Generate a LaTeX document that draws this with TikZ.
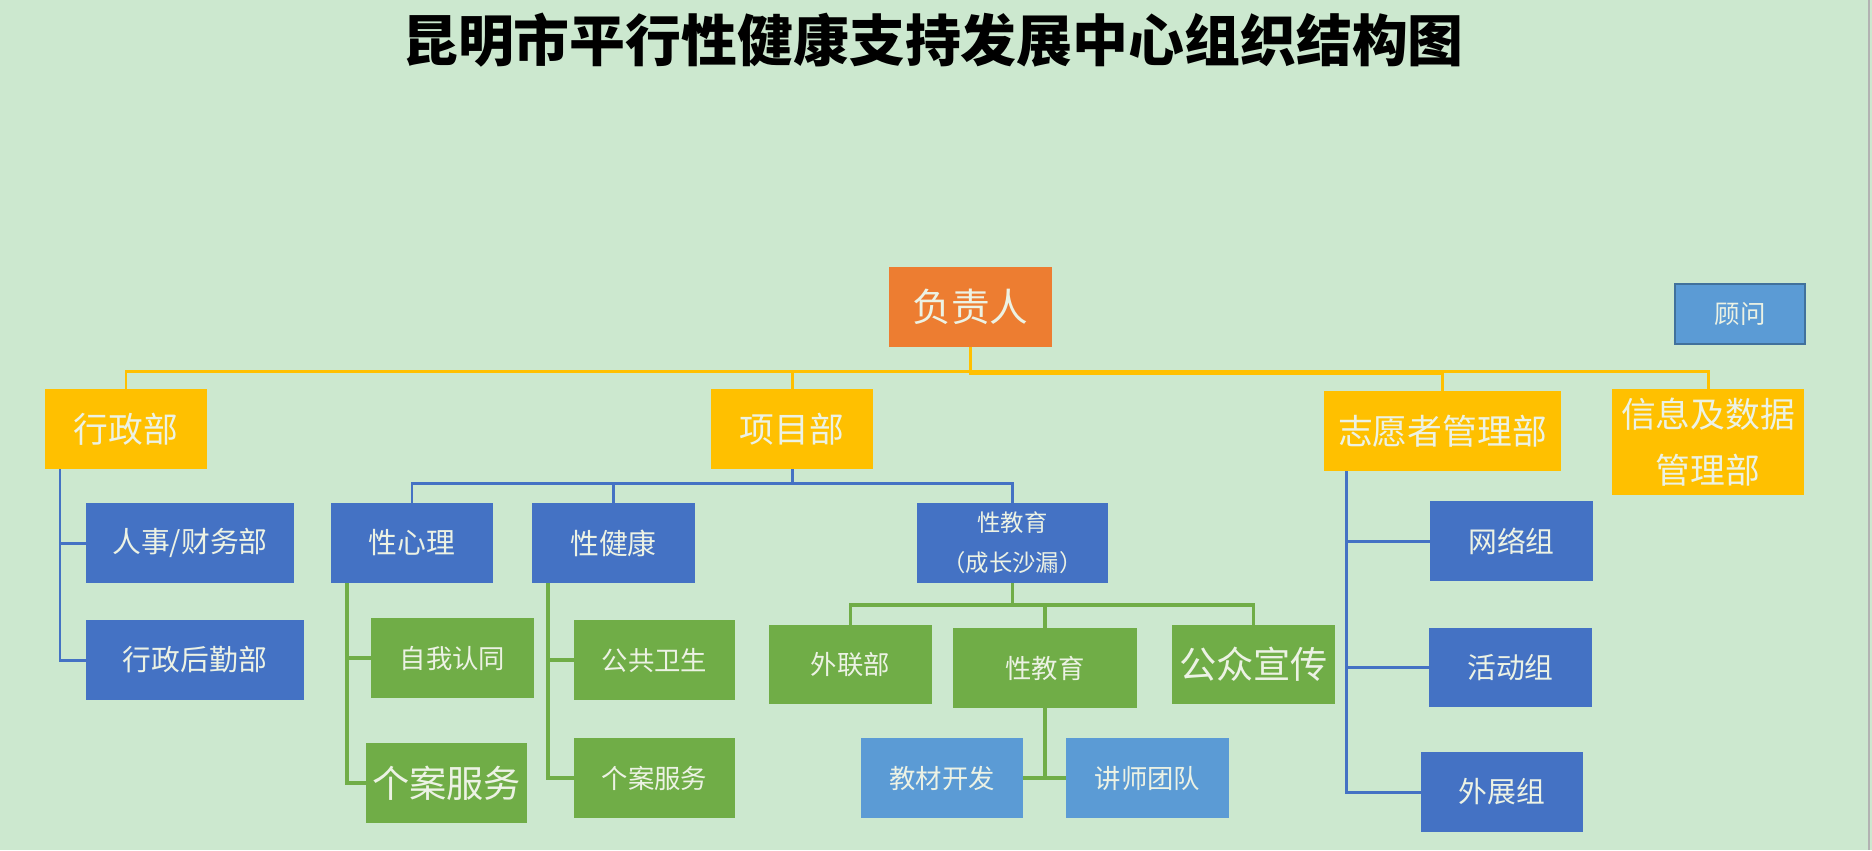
\documentclass[tikz,border=0pt]{standalone}
\usepackage{fontspec}
\newfontfamily\cjk{Noto Sans CJK SC}

\definecolor{bggreen}{RGB}{204,232,207}
\definecolor{headorange}{RGB}{237,125,49}
\definecolor{deptyellow}{RGB}{255,192,0}
\definecolor{teamblue}{RGB}{68,114,196}
\definecolor{skyblue}{RGB}{91,155,213}
\definecolor{skyrim}{RGB}{65,113,156}
\definecolor{subgreen}{RGB}{112,173,71}
\definecolor{paletext}{RGB}{236,242,228}

\begin{document}
\begin{tikzpicture}[x=0.02cm, y=-0.02cm,
  wh/.style 2 args={minimum width=#1*0.02cm, minimum height=#2*0.02cm},
  orgbox/.style={rectangle, inner sep=0pt, align=center, text=paletext},
  headbox/.style={orgbox, fill=headorange, font=\cjk\fontsize{22}{26}\selectfont},
  deptbox/.style={orgbox, fill=deptyellow, font=\cjk\fontsize{19.8}{32.3}\selectfont},
  teambox/.style={orgbox, fill=teamblue, font=\cjk\fontsize{16.4}{20}\selectfont},
  subbox/.style={orgbox, fill=subgreen, font=\cjk\fontsize{15}{18}\selectfont},
  skybox/.style={orgbox, fill=skyblue, font=\cjk\fontsize{15}{18}\selectfont},
  yline/.style={deptyellow, line width=1.7pt},
  bline/.style={teamblue, line width=1.7pt},
  gline/.style={subgreen, line width=1.8pt}]

  % page
  \useasboundingbox (0,0) rectangle (1872,850);
  \fill[bggreen] (0,0) rectangle (1872,850);
  \draw[gray!60, line width=1pt] (1869,0) -- (1869,850);

  % title
  \node[font=\cjk\bfseries\fontsize{31.8}{38}\selectfont] (title) at (933,40)
    {昆明市平行性健康支持发展中心组织结构图};

  % head and adviser
  \node[headbox, wh={163}{80}] (fzr) at (970.5,307) {负责人};
  \node[orgbox, fill=skyblue, draw=skyrim, line width=1.6pt, wh={130}{60},
    font=\cjk\fontsize{14.5}{17}\selectfont] (gw) at (1740,314) {顾问};

  % departments
  \node[deptbox, wh={162}{80}] (xz) at (126,429) {行政部};
  \node[deptbox, wh={162}{80}] (xm) at (792,429) {项目部};
  \node[deptbox, wh={237}{80}] (zy) at (1442.5,431) {志愿者管理部};
  \node[deptbox, wh={192}{106}] (xx) at (1708,442) {信息及数据\\管理部};

  % administration
  \node[teambox, wh={208}{80}] (rs) at (190,543) {人事/财务部};
  \node[teambox, wh={218}{80}] (hq) at (195,660) {行政后勤部};

  % projects
  \node[teambox, wh={162}{80}] (xl) at (412,543) {性心理};
  \node[teambox, wh={163}{80}] (jk) at (613.5,543) {性健康};
  \node[teambox, wh={191}{80}, font=\cjk\fontsize{13.3}{22.7}\selectfont]
    (jy) at (1012.5,543) {性教育\\（成长沙漏）};

  \node[subbox, wh={163}{80}] (zw) at (452.5,658) {自我认同};
  \node[subbox, wh={161}{80}, font=\cjk\fontsize{21.2}{25}\selectfont]
    (ga) at (446.5,783) {个案服务};
  \node[subbox, wh={161}{80}] (gg) at (654.5,660) {公共卫生};
  \node[subbox, wh={161}{80}] (gb) at (654.5,778) {个案服务};

  \node[subbox, wh={163}{79}] (wl) at (850.5,664.5) {外联部};
  \node[subbox, wh={184}{80}] (jy2) at (1045,668) {性教育};
  \node[subbox, wh={163}{79}, font=\cjk\fontsize{21.2}{25}\selectfont]
    (gz) at (1253.5,664.5) {公众宣传};

  \node[skybox, wh={162}{80}] (jc) at (942,778) {教材开发};
  \node[skybox, wh={163}{80}] (js) at (1147.5,778) {讲师团队};

  % volunteers
  \node[teambox, wh={163}{80}] (wg) at (1511.5,541) {网络组};
  \node[teambox, wh={163}{79}] (hd) at (1510.5,667.5) {活动组};
  \node[teambox, wh={162}{80}] (wz) at (1502,792) {外展组};

  % rails and buses
  \coordinate (ybus) at (0,371);
  \coordinate (ybus2) at (0,373);
  \coordinate (xzrail) at (60,0);
  \coordinate (xmbus) at (0,483);
  \coordinate (xlrail) at (347,0);
  \coordinate (jkrail) at (548,0);
  \coordinate (jybus) at (0,605);
  \coordinate (zyrail) at (1346,0);

  % head to departments
  \draw[yline] (fzr.south) -- (fzr.south |- ybus) -| (xz.north);
  \draw[yline] (fzr.south) -- (fzr.south |- ybus) -| (xm.north);
  \draw[yline] (fzr.south) -- (fzr.south |- ybus) -| (xx.north);
  \draw[yline] (fzr.south) -- (fzr.south |- ybus2) -| (zy.north);

  % administration
  \draw[bline] (xz.south -| xzrail) |- (rs.west);
  \draw[bline] (xz.south -| xzrail) |- (hq.west);

  % projects
  \draw[bline] (xm.south) -- (xm.south |- xmbus) -| (xl.north);
  \draw[bline] (xm.south) -- (xm.south |- xmbus) -| (jk.north);
  \draw[bline] (xm.south) -- (xm.south |- xmbus) -| (jy.north);

  \draw[gline] (xl.south -| xlrail) |- (zw.west);
  \draw[gline] (xl.south -| xlrail) |- (ga.west);
  \draw[gline] (jk.south -| jkrail) |- (gg.west);
  \draw[gline] (jk.south -| jkrail) |- (gb.west);

  \draw[gline] (jy.south) -- (jy.south |- jybus) -| (wl.north);
  \draw[gline] (jy.south) -- (jy.south |- jybus) -| (jy2.north);
  \draw[gline] (jy.south) -- (jy.south |- jybus) -| (gz.north);

  \draw[gline] (jy2.south) -- (jy2.south |- jc.east);
  \draw[gline] (jc.east) -- (js.west);

  % volunteers
  \draw[bline] (zy.south -| zyrail) |- (wg.west);
  \draw[bline] (zy.south -| zyrail) |- (hd.west);
  \draw[bline] (zy.south -| zyrail) |- (wz.west);

\end{tikzpicture}
\end{document}
